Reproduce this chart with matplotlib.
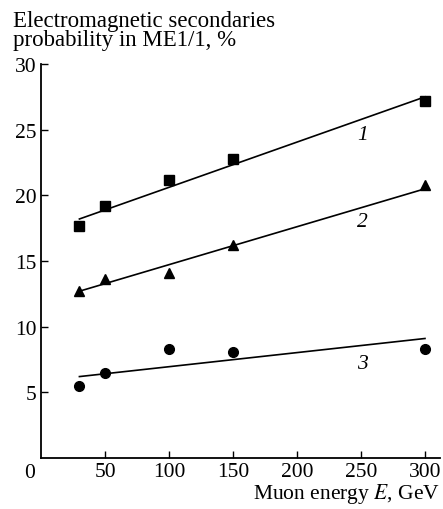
import matplotlib
matplotlib.use("Agg")
import matplotlib.pyplot as plt

plt.rcParams['font.family'] = ['Liberation Serif', 'DejaVu Serif']
plt.rcParams['mathtext.fontset'] = 'stix'

# muon energy, GeV
energy = [30, 50, 100, 150, 300]
# probability, %
curve1 = [17.7, 19.2, 21.2, 22.8, 27.2]
curve2 = [12.7, 13.6, 14.1, 16.2, 20.8]
curve3 = [5.5, 6.5, 8.3, 8.1, 8.3]

# fitted straight lines (end points)
fit_x = [30, 300]
fit1 = [18.2, 27.5]
fit2 = [12.7, 20.5]
fit3 = [6.2, 9.1]

curve_labels = ['1', '2', '3']
label_x = [251, 251, 251]
label_y = [24.6, 18.0, 7.2]

xticks = [50, 100, 150, 200, 250, 300]
yticks = [5, 10, 15, 20, 25, 30]

fs = 15.5

fig = plt.figure(figsize=(4.43, 5.1), dpi=100)
ax = fig.add_axes([0.0926, 0.1, 0.9014, 0.7725])

for fx, fy in [(fit_x, fit1), (fit_x, fit2), (fit_x, fit3)]:
    ax.plot(fx, fy, color='black', lw=1.2)

ax.plot(energy, curve1, 's', color='black', ms=6.5, ls='none')
ax.plot(energy, curve2, '^', color='black', ms=7, ls='none')
ax.plot(energy, curve3, 'o', color='black', ms=7, ls='none')

for lab, lx, ly in zip(curve_labels, label_x, label_y):
    ax.text(lx, ly, lab, fontsize=fs, style='italic', ha='center', va='center')

ax.set_xlim(0, 312)
ax.set_ylim(0, 30)
ax.set_xticks(xticks)
ax.set_yticks(yticks)
ax.tick_params(direction='in', length=5, width=1, labelsize=fs, pad=3)
ax.tick_params(axis='y', pad=3)
for s in ['top', 'right']:
    ax.spines[s].set_visible(False)
for s in ['left', 'bottom']:
    ax.spines[s].set_linewidth(1.3)

# "0" at the origin of the energy axis
ax.text(-9, -0.4, '0', fontsize=fs, ha='center', va='top', transform=ax.transData)

fig.text(0.994, 0.008, 'Muon energy $\\it{E}$, GeV', fontsize=fs, ha='right', va='bottom')
fig.text(0.029, 0.978, 'Electromagnetic secondaries\nprobability in ME1/1, %',
         fontsize=16.5, ha='left', va='top', linespacing=0.85)

fig.savefig('out.png', dpi=100)
